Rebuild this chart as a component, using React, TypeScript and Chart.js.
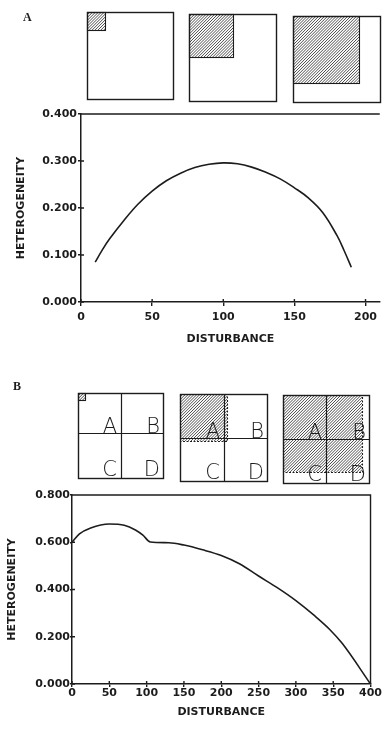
import React, { useEffect, useRef } from "react";
import { Chart, registerables } from "chart.js";

Chart.register(...registerables);

// Panel A: single square patch growing from one corner
const disturbanceA = [10, 15, 20, 30, 40, 50, 60, 70, 80, 90, 100, 110, 120, 130, 140, 150, 160, 170, 180, 185, 190];
const heterogeneityA = [0.085, 0.111, 0.134, 0.173, 0.208, 0.236, 0.258, 0.274, 0.286, 0.293, 0.296, 0.294, 0.287, 0.276, 0.262, 0.243, 0.221, 0.19, 0.141, 0.109, 0.074];
const xTicksA = [0, 50, 100, 150, 200];
const yTicksA = [0, 0.1, 0.2, 0.3, 0.4];

// Panel B: patch growing across four quadrants A-D
const disturbanceB = [0, 10, 25, 50, 70, 85, 95, 105, 130, 150, 175, 200, 225, 250, 275, 300, 325, 345, 362, 400];
const heterogeneityB = [0.6, 0.635, 0.66, 0.677, 0.672, 0.652, 0.63, 0.601, 0.598, 0.588, 0.568, 0.544, 0.508, 0.457, 0.408, 0.353, 0.289, 0.232, 0.172, 0.0];
const xTicksB = [0, 50, 100, 150, 200, 250, 300, 350, 400];
const yTicksB = [0, 0.2, 0.4, 0.6, 0.8];

const quadLetters = ["A", "B", "C", "D"];

const INK = "#1c1c1c";
const tickFont = { family: "'DejaVu Sans', sans-serif", size: 11, weight: "bold" as const };

// Draws the inner halves of the tick marks plus the top (and optional right) frame line
const framePlugin = {
  id: "frame",
  afterDraw(chart: any, _args: any, opts: any) {
    const { ctx, chartArea, scales } = chart;
    const { left, top, right, bottom } = chartArea;
    ctx.save();
    ctx.strokeStyle = INK;
    ctx.lineWidth = 1.4;
    ctx.beginPath();
    scales.x.ticks.forEach((t: any) => {
      const px = scales.x.getPixelForValue(t.value);
      ctx.moveTo(px, bottom);
      ctx.lineTo(px, bottom - opts.inX);
    });
    scales.y.ticks.forEach((t: any) => {
      const py = scales.y.getPixelForValue(t.value);
      ctx.moveTo(left, py);
      ctx.lineTo(left + opts.inY, py);
    });
    ctx.moveTo(left, top);
    ctx.lineTo(right, top);
    if (opts.rightEdge) ctx.lineTo(right, bottom);
    ctx.stroke();
    ctx.restore();
  },
};

type PanelProps = {
  xs: number[];
  ys: number[];
  smooth: "monotone" | "bezier";
  xMax: number;
  yMax: number;
  xTicks: number[];
  yTicks: number[];
  top: number;
  height: number;
  yAxisWidth: number;
  xAxisHeight: number;
  pad: { top: number; right: number };
  yTitlePad: number;
  xTitlePad: number;
  xTick: { len: number; pad: number };
  yTick: { len: number; pad: number };
  inner: { x: number; y: number };
  rightEdge: boolean;
};

function Panel(p: PanelProps) {
  const ref = useRef<HTMLCanvasElement | null>(null);
  useEffect(() => {
    if (!ref.current) return;
    const chart = new Chart(ref.current, {
      type: "line",
      data: {
        datasets: [
          {
            data: p.xs.map((x, i) => ({ x, y: p.ys[i] })),
            borderColor: INK,
            borderWidth: 1.6,
            pointRadius: 0,
            fill: false,
            cubicInterpolationMode: p.smooth === "monotone" ? "monotone" : "default",
            tension: 0.4,
          },
        ],
      },
      options: {
        animation: false,
        responsive: false,
        devicePixelRatio: 1,
        layout: { padding: { top: p.pad.top, right: p.pad.right, left: 0, bottom: 0 } },
        plugins: {
          legend: { display: false },
          tooltip: { enabled: false },
          frame: { inX: p.inner.x, inY: p.inner.y, rightEdge: p.rightEdge },
        } as any,
        scales: {
          x: {
            type: "linear",
            min: 0,
            max: p.xMax,
            border: { display: true, color: INK, width: 1.5 },
            grid: { drawOnChartArea: false, drawTicks: true, tickLength: p.xTick.len, color: INK, lineWidth: 1.4 },
            ticks: { color: INK, font: tickFont, padding: p.xTick.pad, maxRotation: 0, autoSkip: false, callback: (v: any) => String(v) },
            title: { display: true, text: "DISTURBANCE", color: INK, font: tickFont, padding: { top: 0, bottom: p.xTitlePad } },
            afterBuildTicks: (s: any) => {
              s.ticks = p.xTicks.map((value) => ({ value }));
            },
            afterFit: (s: any) => {
              s.height = p.xAxisHeight;
            },
          },
          y: {
            type: "linear",
            min: 0,
            max: p.yMax,
            border: { display: true, color: INK, width: 1.5 },
            grid: { drawOnChartArea: false, drawTicks: true, tickLength: p.yTick.len, color: INK, lineWidth: 1.4 },
            ticks: { color: INK, font: tickFont, padding: p.yTick.pad, callback: (v: any) => Number(v).toFixed(3) },
            title: { display: true, text: "HETEROGENEITY", color: INK, font: tickFont, padding: { top: p.yTitlePad, bottom: 0 } },
            afterBuildTicks: (s: any) => {
              s.ticks = p.yTicks.map((value) => ({ value }));
            },
            afterFit: (s: any) => {
              s.width = p.yAxisWidth;
            },
          },
        },
      } as any,
      plugins: [framePlugin],
    });
    return () => chart.destroy();
  }, []);
  return (
    <canvas
      ref={ref}
      width={382}
      height={p.height}
      style={{ position: "absolute", left: 0, top: p.top, width: 382, height: p.height }}
    />
  );
}

// Schematic squares above each panel: outline, hatched patch, optional quadrant grid
type SquareSpec = {
  left: number;
  top: number;
  w: number;
  h: number;
  hw: number;
  hh: number;
  split?: { x: number; y: number };
  dashed?: boolean;
};

function drawSquare(ctx: CanvasRenderingContext2D, s: SquareSpec) {
  const L = s.left;
  const T = s.top;
  // diagonal hatching, "/" direction
  ctx.save();
  ctx.beginPath();
  ctx.rect(L, T, s.hw, s.hh);
  ctx.clip();
  ctx.strokeStyle = "#3a3a3a";
  ctx.lineWidth = 0.9;
  ctx.beginPath();
  for (let k = -s.hh; k < s.hw + s.hh; k += 2.9) {
    ctx.moveTo(L + k, T + s.hh);
    ctx.lineTo(L + k + s.hh, T);
  }
  ctx.stroke();
  ctx.restore();

  ctx.save();
  ctx.strokeStyle = INK;
  ctx.lineWidth = 1.1;
  if (s.dashed) ctx.setLineDash([2, 1.5]);
  ctx.strokeRect(L + 0.5, T + 0.5, s.hw, s.hh);
  ctx.restore();

  ctx.save();
  ctx.strokeStyle = INK;
  ctx.lineWidth = 1.4;
  ctx.strokeRect(L + 0.5, T + 0.5, s.w, s.h);
  if (s.split) {
    ctx.lineWidth = 1.2;
    ctx.beginPath();
    ctx.moveTo(L + s.split.x + 0.5, T);
    ctx.lineTo(L + s.split.x + 0.5, T + s.h);
    ctx.moveTo(L, T + s.split.y + 0.5);
    ctx.lineTo(L + s.w, T + s.split.y + 0.5);
    ctx.stroke();
    ctx.fillStyle = INK;
    ctx.font = "200 21px 'DejaVu Sans', sans-serif";
    ctx.textAlign = "right";
    ctx.textBaseline = "alphabetic";
    quadLetters.forEach((l, i) => {
      const col = i % 2;
      const row = Math.floor(i / 2);
      const rx = col === 0 ? L + s.split!.x - 4 : L + s.w - 3;
      const by = row === 0 ? T + s.split!.y - 0.5 : T + s.h - 2;
      ctx.fillText(l, rx, by);
    });
  }
  ctx.restore();
}

function Diagrams({ top, height, label, squares }: { top: number; height: number; label: { text: string; x: number; y: number }; squares: SquareSpec[] }) {
  const ref = useRef<HTMLCanvasElement | null>(null);
  useEffect(() => {
    const c = ref.current;
    if (!c) return;
    const ctx = c.getContext("2d");
    if (!ctx) return;
    ctx.clearRect(0, 0, c.width, c.height);
    ctx.fillStyle = INK;
    ctx.font = "bold 12px 'Liberation Serif', serif";
    ctx.textBaseline = "alphabetic";
    ctx.fillText(label.text, label.x, label.y);
    squares.forEach((s) => drawSquare(ctx, s));
  }, []);
  return <canvas ref={ref} width={382} height={height} style={{ position: "absolute", left: 0, top, width: 382, height }} />;
}

const squaresA: SquareSpec[] = [
  { left: 87, top: 12, w: 86, h: 87, hw: 18, hh: 18 },
  { left: 189, top: 14, w: 87, h: 87, hw: 44, hh: 43 },
  { left: 293, top: 16, w: 87, h: 86, hw: 66, hh: 67 },
];

const squaresB: SquareSpec[] = [
  { left: 78, top: 23, w: 85, h: 85, hw: 7, hh: 7, split: { x: 43, y: 40 } },
  { left: 180, top: 24, w: 87, h: 87, hw: 47, hh: 47, split: { x: 44, y: 44 }, dashed: true },
  { left: 283, top: 25, w: 86, h: 88, hw: 79, hh: 77, split: { x: 43, y: 44 }, dashed: true },
];

export default function App() {
  return (
    <div style={{ position: "absolute", left: 0, top: 0, width: 382, height: 729, background: "#fff", overflow: "hidden" }}>
      <Diagrams top={0} height={105} label={{ text: "A", x: 23, y: 21 }} squares={squaresA} />
      <Panel
        xs={disturbanceA}
        ys={heterogeneityA}
        smooth="bezier"
        xMax={210}
        yMax={0.4}
        xTicks={xTicksA}
        yTicks={yTicksA}
        top={105}
        height={245}
        yAxisWidth={81}
        xAxisHeight={48}
        pad={{ top: 9, right: 0 }}
        yTitlePad={15}
        xTitlePad={4}
        xTick={{ len: 4, pad: 5 }}
        yTick={{ len: 3, pad: 1 }}
        inner={{ x: 3, y: 3 }}
        rightEdge={false}
      />

      <Diagrams top={370} height={115} label={{ text: "B", x: 13, y: 20 }} squares={squaresB} />
      <Panel
        xs={disturbanceB}
        ys={heterogeneityB}
        smooth="monotone"
        xMax={400}
        yMax={0.8}
        xTicks={xTicksB}
        yTicks={yTicksB}
        top={485}
        height={244}
        yAxisWidth={72}
        xAxisHeight={45}
        pad={{ top: 10, right: 8 }}
        yTitlePad={6}
        xTitlePad={10}
        xTick={{ len: 3, pad: 0 }}
        yTick={{ len: 2, pad: 0 }}
        inner={{ x: 3, y: 3 }}
        rightEdge={true}
      />
    </div>
  );
}
